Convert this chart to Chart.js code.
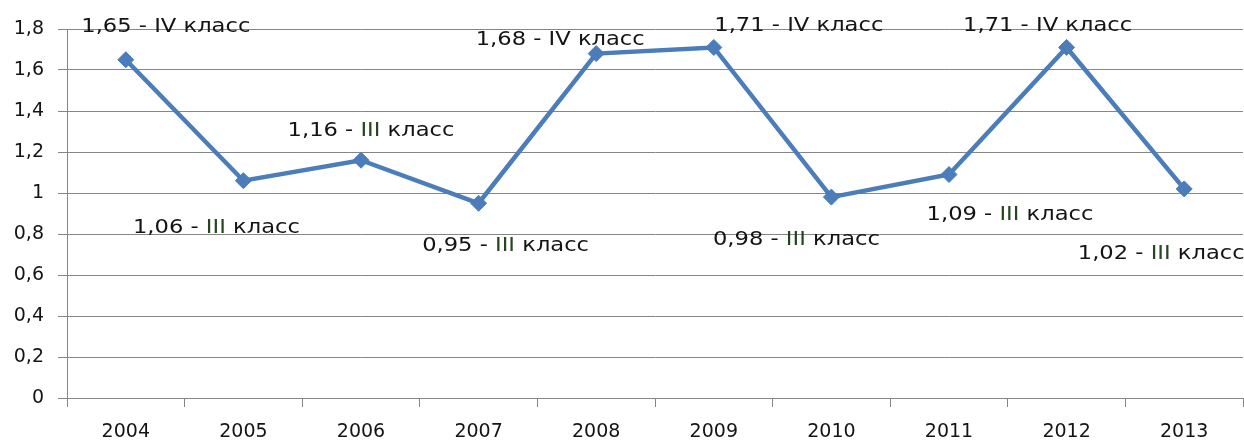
<!DOCTYPE html>
<html>
<head>
<meta charset="utf-8">
<script src="https://cdn.jsdelivr.net/npm/chart.js@4/dist/chart.umd.min.js"></script>
<style>
html,body{margin:0;padding:0;background:#fff;}
#wrap{width:1244px;height:443px;}
</style>
</head>
<body>
<div id="wrap"><canvas id="c" width="1244" height="443"></canvas></div>
<script>
const years = ['2004','2005','2006','2007','2008','2009','2010','2011','2012','2013'];
const values = [1.65, 1.06, 1.16, 0.95, 1.68, 1.71, 0.98, 1.09, 1.71, 1.02];
const classes = ['IV','III','III','III','IV','IV','III','III','IV','III'];
const yTicks = ['0','0,2','0,4','0,6','0,8','1','1,2','1,4','1,6','1,8'];

// label placement offsets (centre of label relative to its point)
const labelDx = [40, -27, 10, 27, -36, 85, -35, 61, -19, -23];
const labelDy = [-33, 47, -29, 43, -14, -21, 43, 41, -21, 65];

const fmt = v => v.toFixed(2).replace('.', ',');

const labelPlugin = {
  id: 'pointLabels',
  afterDatasetsDraw(chart) {
    const ctx = chart.ctx;
    const meta = chart.getDatasetMeta(0);
    const sx = 1.19;
    ctx.save();
    ctx.font = '19px "DejaVu Sans"';
    ctx.textBaseline = 'middle';
    meta.data.forEach((pt, i) => {
      const parts = [
        {t: fmt(values[i]) + ' - ', c: '#141414'},
        {t: classes[i], c: classes[i] === 'III' ? '#27451f' : '#141414'},
        {t: ' класс', c: '#141414'}
      ];
      const total = parts.reduce((s, p) => s + ctx.measureText(p.t).width, 0);
      const cx = pt.x + labelDx[i];
      const cy = pt.y + labelDy[i];
      ctx.save();
      ctx.translate(cx, cy);
      ctx.scale(sx, 1);
      let x = -total / 2;
      ctx.textAlign = 'left';
      parts.forEach(p => {
        ctx.fillStyle = p.c;
        ctx.fillText(p.t, x, 0);
        x += ctx.measureText(p.t).width;
      });
      ctx.restore();
    });
    ctx.restore();
  }
};

new Chart(document.getElementById('c'), {
  type: 'line',
  data: {
    labels: years,
    datasets: [{
      data: values,
      borderColor: '#4a7dba',
      backgroundColor: '#4a7dba',
      borderWidth: 4.5,
      pointStyle: 'rectRot',
      pointRadius: 8,
      pointHoverRadius: 8,
      pointBackgroundColor: '#4a7dba',
      pointBorderColor: '#4a7dba',
      pointBorderWidth: 1,
      tension: 0,
      clip: false
    }]
  },
  options: {
    responsive: false,
    animation: false,
    events: [],
    layout: {autoPadding: false, padding: {top: 29, right: 1, left: 0, bottom: 0}},
    plugins: {legend: {display: false}, tooltip: {enabled: false}},
    scales: {
      x: {
        offset: true,
        grid: {
          offset: true,
          drawOnChartArea: false,
          drawTicks: true,
          tickLength: 9,
          color: '#868686',
          lineWidth: 1
        },
        border: {display: true, color: '#868686', width: 1},
        ticks: {
          color: '#141414',
          font: {family: '"DejaVu Sans"', size: 19},
          padding: 14,
          maxRotation: 0,
          autoSkip: false
        },
        afterFit(scale) { scale.height = 45; }
      },
      y: {
        min: 0,
        max: 1.8,
        ticks: {
          stepSize: 0.2,
          color: '#141414',
          font: {family: '"DejaVu Sans"', size: 19},
          padding: 14,
          callback: (v, i) => yTicks[i]
        },
        grid: {
          color: '#868686',
          lineWidth: 1,
          tickLength: 9,
          drawTicks: true
        },
        border: {display: true, color: '#868686', width: 1},
        afterFit(scale) { scale.width = 67; }
      }
    }
  },
  plugins: [labelPlugin]
});
</script>
</body>
</html>
